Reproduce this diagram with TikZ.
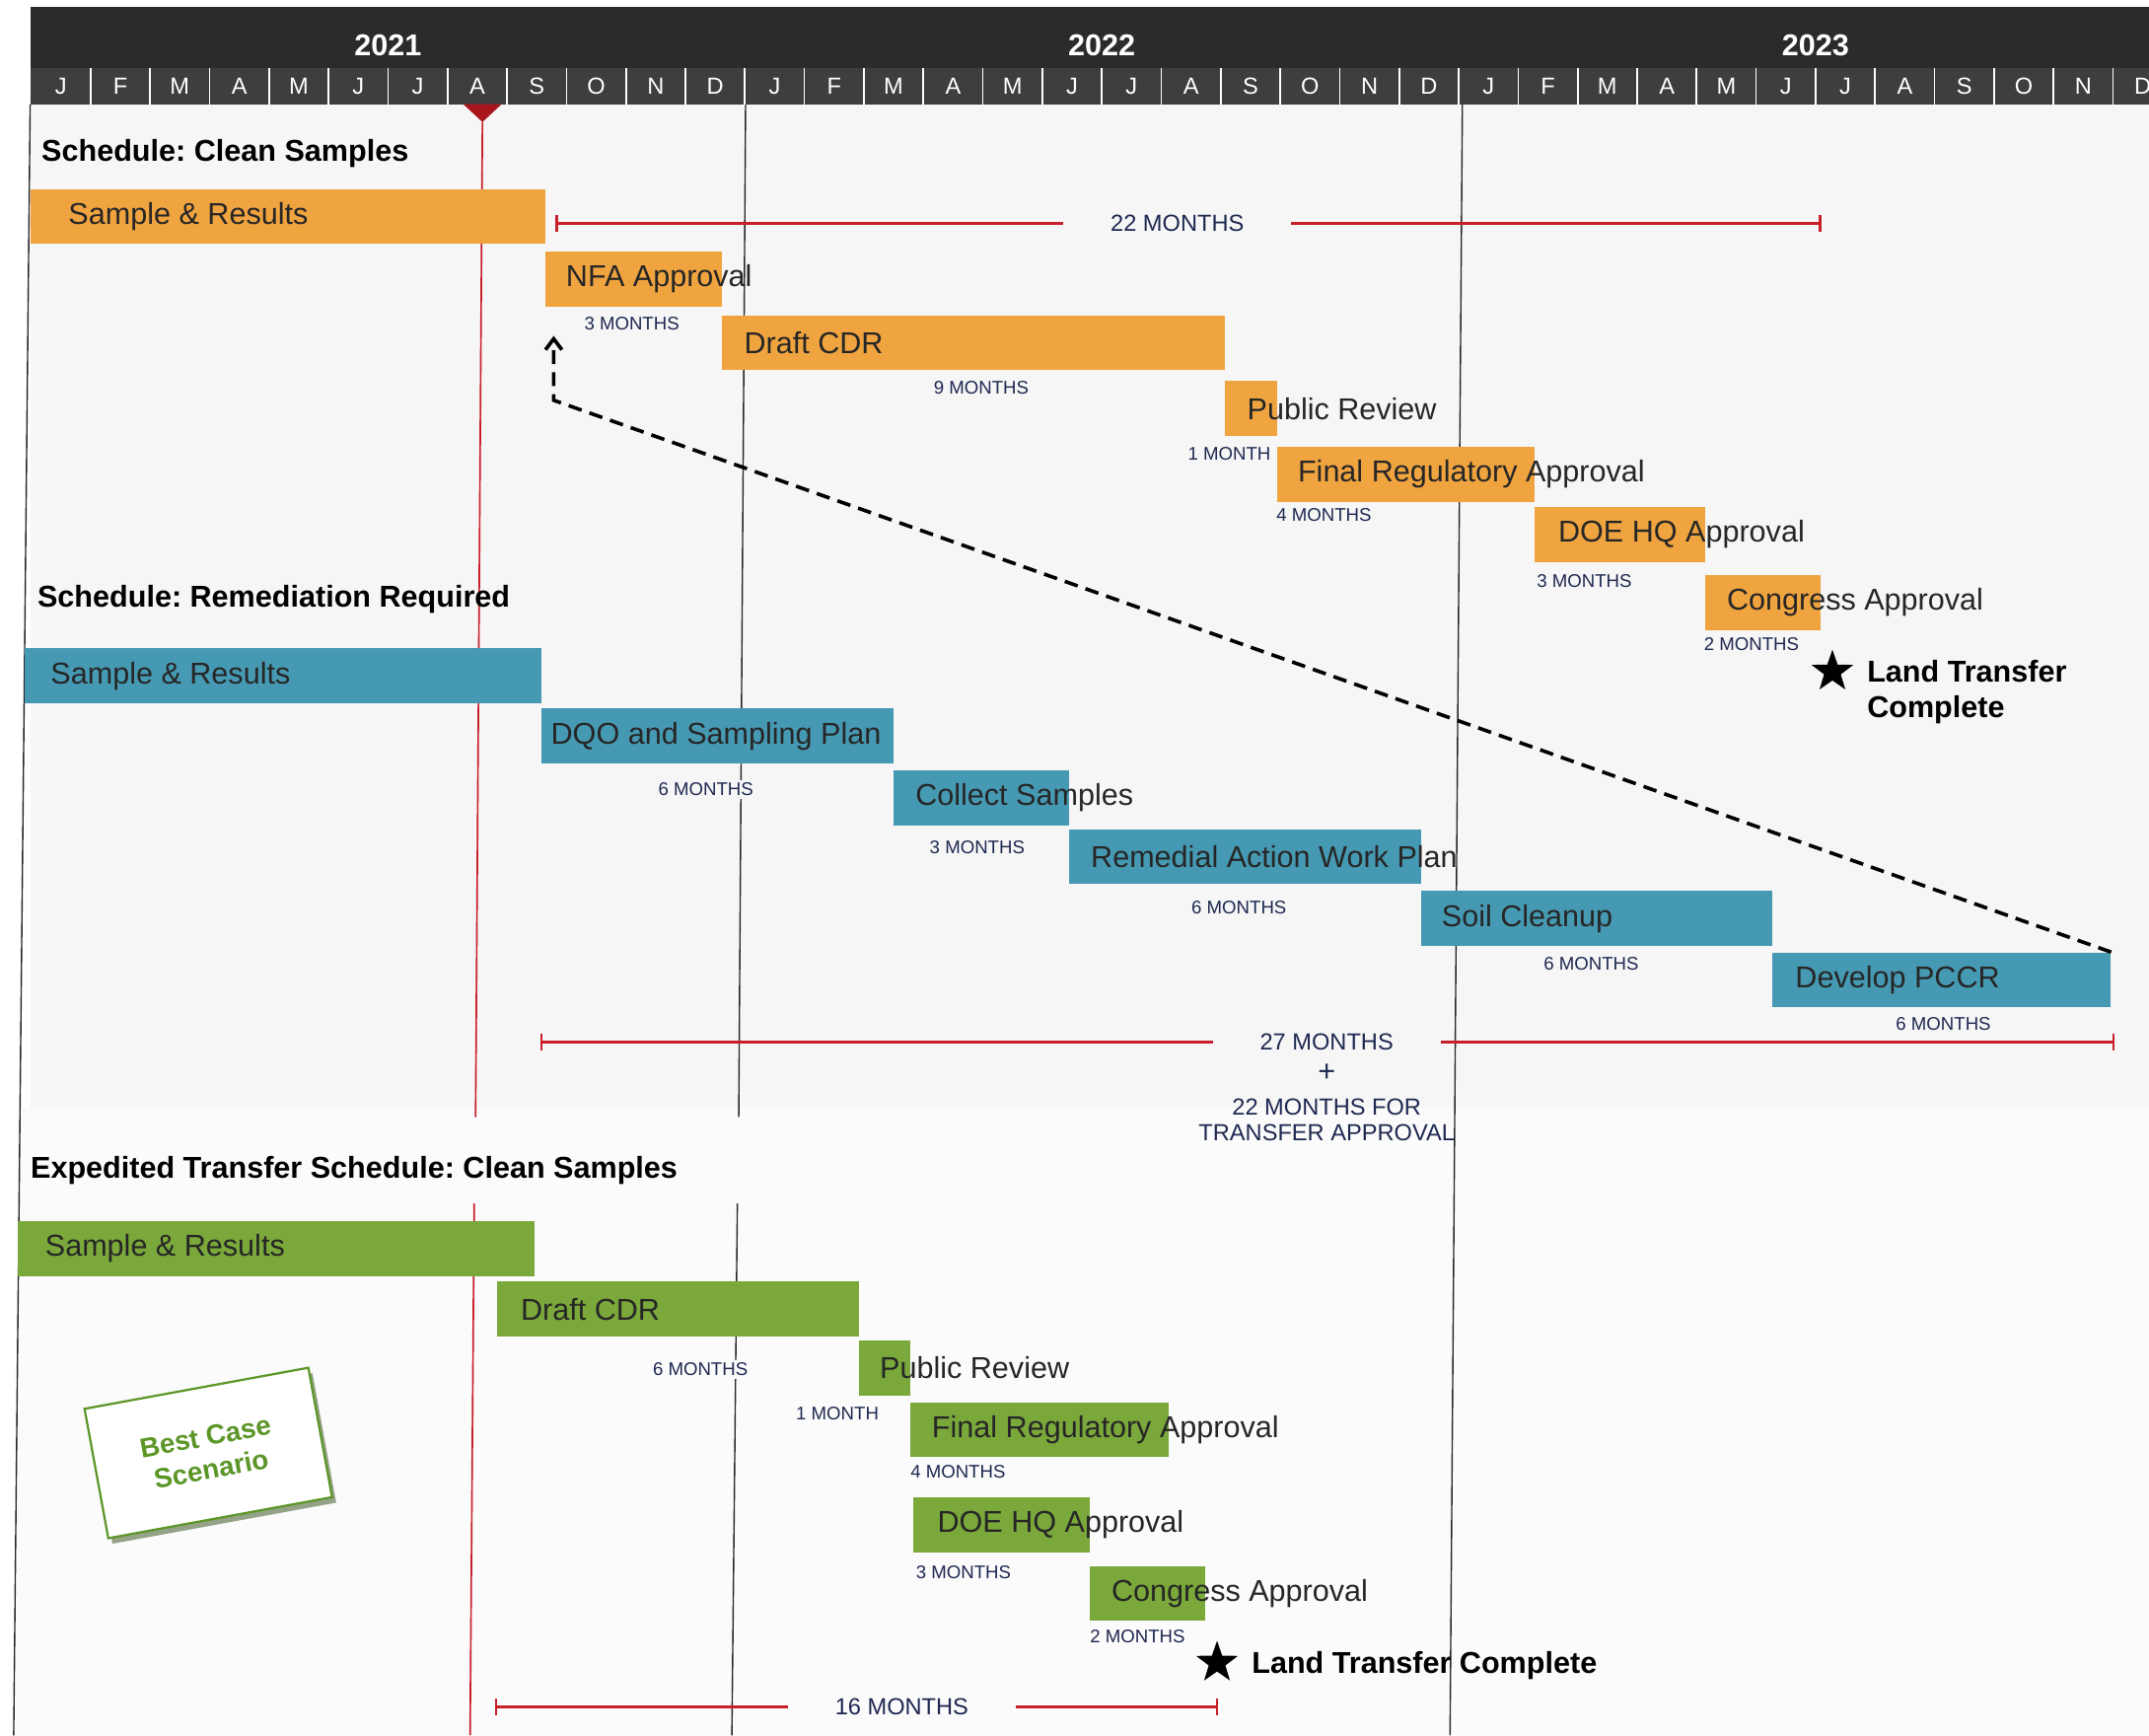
\documentclass[tikz,border=0pt]{standalone}
\usepackage{fontspec}
\setmainfont{Liberation Sans}
\frenchspacing
\usetikzlibrary{arrows.meta,shapes.geometric,shadows}
\definecolor{barorange}{RGB}{240,164,64}
\definecolor{barblue}{RGB}{70,153,178}
\definecolor{bargreen}{RGB}{122,168,58}
\definecolor{headdark}{RGB}{43,43,43}
\definecolor{headmid}{RGB}{62,62,62}
\definecolor{spanred}{RGB}{200,32,42}
\definecolor{markred}{RGB}{168,21,28}
\definecolor{navy}{RGB}{30,40,80}
\definecolor{bgup}{RGB}{246,246,246}
\definecolor{bglow}{RGB}{251,251,251}
\definecolor{boxgreen}{RGB}{92,150,40}

\begin{document}
\begin{tikzpicture}[x=0.5pt,y=-0.5pt,
	bar/.style={inner sep=0pt,minimum height=20pt},
	barlbl/.style={anchor=west,inner sep=0pt,text=black!85,font=\fontsize{11}{13}\selectfont},
	title/.style={anchor=west,inner sep=0pt,font=\bfseries\fontsize{11}{13}\selectfont},
	dur/.style={inner sep=1pt,text=navy,fill=bgup,font=\fontsize{6.7}{8}\selectfont},
	spanlbl/.style={inner xsep=17pt,inner ysep=1pt,text=navy,font=\fontsize{8.5}{9.5}\selectfont},
	span/.style={draw=spanred,line width=1pt},
	month/.style={text=white,font=\fontsize{8.5}{10}\selectfont},
	year/.style={text=white,font=\bfseries\fontsize{11}{13}\selectfont},
	done/.style={anchor=west,inner sep=0pt,align=left,font=\bfseries\fontsize{11}{13}\selectfont},
	donestar/.style={star,star points=5,star point ratio=2.5,fill=black,inner sep=0pt,minimum size=16pt},
	bestbox/.style={draw=boxgreen,line width=0.8pt,fill=white,text=boxgreen,align=center,
		minimum width=83pt,minimum height=48pt,font=\bfseries\fontsize{10}{12}\selectfont,
		drop shadow={fill=boxgreen!50!black,shadow xshift=1.5pt,shadow yshift=-2pt}}]
	\useasboundingbox (0,0) rectangle (1568,1266);
	\fill[white] (0,0) rectangle (1568,1266);
	\fill[bgup] (22,76) rectangle (1568,808);
	\fill[bglow] (12,808) rectangle (1568,1266);

	\draw[black!85,line width=0.5pt] (22,76) -- (10,1266);
	\draw[black!85,line width=0.5pt] (544,76) -- (539,815);
	\draw[black!85,line width=0.5pt] (538,878) -- (534,1266);
	\draw[black!85,line width=0.5pt] (1067,76) -- (1058,1266);
	\draw[spanred,line width=0.6pt] (352,89) -- (347,815);
	\draw[spanred,line width=0.6pt] (346,878) -- (343,1266);

	\begin{scope}
		\clip (0,0) rectangle (1568,80);
		\fill[headdark] (22,5) rectangle (1600,50);
		\fill[headmid] (22,50) rectangle (1600,76);
		\foreach \i in {1,...,35}
			\draw[white,line width=0.6pt] ({22.7+43.4*\i},50) -- ({22.7+43.4*\i},76);
		\foreach \mth [count=\i from 0] in {J,F,M,A,M,J,J,A,S,O,N,D,J,F,M,A,M,J,J,A,S,O,N,D,J,F,M,A,M,J,J,A,S,O,N,D}
			\node[month] (m\i) at ({22.7+43.4*\i+21.7},63) {\mth};
		\foreach \yr [count=\i from 0] in {2021,2022,2023}
			\node[year] (y\yr) at ({22.7+43.4*(6+12*\i)},33) {\yr};
	\end{scope}
	\fill[markred] (338,76) -- (366,76) -- (352,89) -- cycle;

	\node[title] (t1) at (30,112) {Schedule: Clean Samples};
	\node[title] (t2) at (27,437) {Schedule: Remediation Required};
	\node[title] (t3) at (22,854) {Expedited Transfer Schedule: Clean Samples};

	\foreach \nm/\xa/\xb/\yy/\off/\txt in {
		cs1/22/398/158/28/Sample \& Results,
		cs2/398/527/203.5/15/NFA Approval,
		cs3/527/894/250/16/Draft CDR,
		cs4/894/932/298/16/Public Review,
		cs5/932/1120/346/15/Final Regulatory Approval,
		cs6/1120/1244/390/17/DOE HQ Approval,
		cs7/1244/1328/439.5/16/Congress Approval}{
		\node[bar,fill=barorange,minimum width={(\xb-\xa)*0.5pt}] (\nm) at ({(\xa+\xb)/2},\yy) {};
		\node[barlbl] (\nm-t) at ([xshift={\off*0.5pt}]\nm.west) {\txt};
	}
	\foreach \nm/\xa/\xb/\yy/\off/\txt in {
		rr1/18/395/493/19/Sample \& Results,
		rr2/395/652/537/7/DQO and Sampling Plan,
		rr3/652/780/582/16/Collect Samples,
		rr4/780/1037/625/16/Remedial Action Work Plan,
		rr5/1037/1293/670/15/Soil Cleanup,
		rr6/1293/1540/715/17/Develop PCCR}{
		\node[bar,fill=barblue,minimum width={(\xb-\xa)*0.5pt}] (\nm) at ({(\xa+\xb)/2},\yy) {};
		\node[barlbl] (\nm-t) at ([xshift={\off*0.5pt}]\nm.west) {\txt};
	}
	\foreach \nm/\xa/\xb/\yy/\off/\txt in {
		ex1/13/390/911/20/Sample \& Results,
		ex2/363/627/955/17/Draft CDR,
		ex3/627/664/998/15/Public Review,
		ex4/664/853/1043/16/Final Regulatory Approval,
		ex5/666/795/1112.5/18/DOE HQ Approval,
		ex6/795/879/1162.5/16/Congress Approval}{
		\node[bar,fill=bargreen,minimum width={(\xb-\xa)*0.5pt}] (\nm) at ({(\xa+\xb)/2},\yy) {};
		\node[barlbl] (\nm-t) at ([xshift={\off*0.5pt}]\nm.west) {\txt};
	}

	\foreach \nm/\xx/\yy/\txt in {
		cs2/461/236/3 MONTHS, cs3/716/283/9 MONTHS, cs4/897/331/1 MONTH,
		cs5/966/376/4 MONTHS, cs6/1156/424/3 MONTHS, cs7/1278/470/2 MONTHS,
		rr2/515/576/6 MONTHS, rr3/713/618/3 MONTHS, rr4/904/662/6 MONTHS,
		rr5/1161/703/6 MONTHS, rr6/1418/747/6 MONTHS}
		\node[dur] (\nm-d) at (\xx,\yy) {\txt};
	\foreach \nm/\xx/\yy/\txt in {
		ex2/511/999/6 MONTHS, ex3/611/1031/1 MONTH, ex4/699/1074/4 MONTHS,
		ex5/703/1147/3 MONTHS, ex6/830/1194/2 MONTHS}
		\node[dur,fill=bglow] (\nm-d) at (\xx,\yy) {\txt};

	\coordinate (s22a) at (405,163);
	\coordinate (s22b) at (1329,163);
	\node[spanlbl] (s22) at (859,163) {22 MONTHS};
	\draw[span,{Bar[width=6pt]}-] (s22a) -- (s22);
	\draw[span,-{Bar[width=6pt]}] (s22) -- (s22b);

	\coordinate (r27a) at (394,760);
	\coordinate (r27b) at (1543,760);
	\node[spanlbl] (r27) at (968,760) {27 MONTHS};
	\draw[span,{Bar[width=6pt]}-] (r27a) -- (r27);
	\draw[span,-{Bar[width=6pt]}] (r27) -- (r27b);
	\node[text=navy,inner sep=0pt,font=\fontsize{11}{11}\selectfont] (r27p) at (968,783) {+};
	\node[spanlbl,inner xsep=0pt,align=center] (r27n) at (968,817) {22 MONTHS FOR\\TRANSFER APPROVAL};

	\coordinate (e16a) at (361,1245);
	\coordinate (e16b) at (889,1245);
	\node[spanlbl] (e16) at (658,1245) {16 MONTHS};
	\draw[span,{Bar[width=6pt]}-] (e16a) -- (e16);
	\draw[span,-{Bar[width=6pt]}] (e16) -- (e16b);

	\node[donestar] (st1) at (1337,490) {};
	\node[done] (lt1) at (1362,505) {Land Transfer\\Complete};
	\node[donestar] (st2) at (888,1213) {};
	\node[done] (lt2) at (913,1215) {Land Transfer Complete};

	\coordinate (bend) at (404,292);
	\coordinate (nfa-tip) at (404,245);
	\draw[line width=1.3pt,dash pattern=on 5pt off 3pt,-{Straight Barb[length=4pt,width=6pt]}]
		(rr6.north east) -- (bend) -- (nfa-tip);

	\node[bestbox,rotate=10.4] (best) at (152,1060) {Best Case\\Scenario};
\end{tikzpicture}
\end{document}
